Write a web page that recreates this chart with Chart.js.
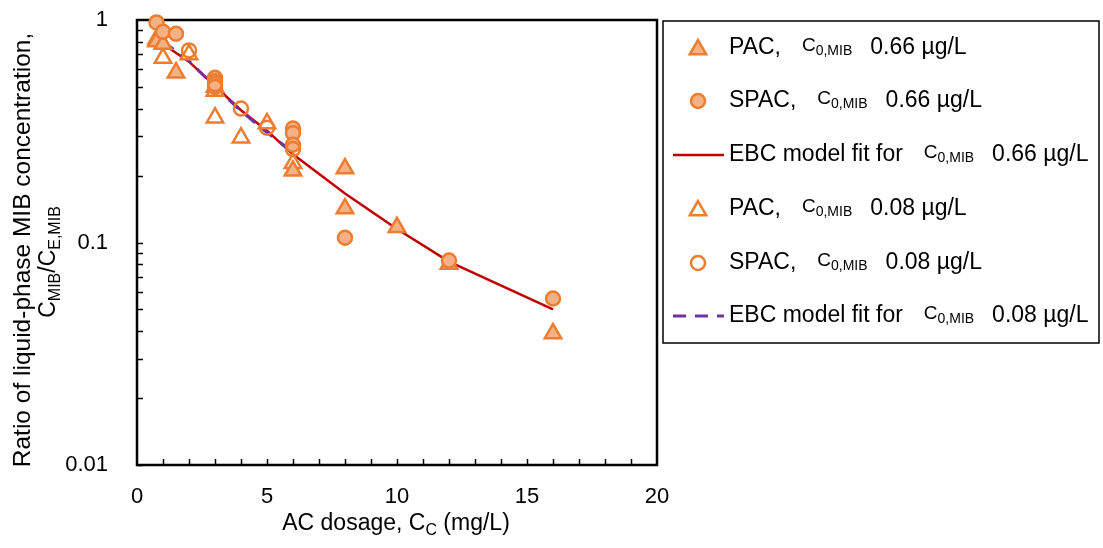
<!DOCTYPE html>
<html>
<head>
<meta charset="utf-8">
<script src="https://cdn.jsdelivr.net/npm/chart.js@4.4.0/dist/chart.umd.min.js"></script>
<style>
  html, body { margin: 0; padding: 0; background: #ffffff; }
  #wrap { width: 1103px; height: 548px; position: relative; }
</style>
</head>
<body>
<div id="wrap"><canvas id="c" width="1103" height="548"></canvas></div>
<script>
// AC dosage (mg/L) and ratio C_MIB / C_E,MIB for each series
const pacHighX  = [0.75, 1, 1.5, 3, 6, 8, 8, 10, 12, 16];
const pacHighY  = [0.80, 0.78, 0.58, 0.50, 0.21, 0.215, 0.142, 0.117, 0.080, 0.039];

const spacHighX = [0.75, 1, 1.5, 3, 3, 3, 6, 6, 6, 8, 12, 16];
const spacHighY = [0.975, 0.885, 0.867, 0.55, 0.53, 0.515, 0.325, 0.31, 0.275, 0.105, 0.083, 0.056];

const pacLowX   = [0.75, 1, 2, 3, 3, 4, 5, 6];
const pacLowY   = [0.82, 0.674, 0.70, 0.48, 0.364, 0.296, 0.343, 0.227];

const spacLowX  = [2, 3, 4, 5, 6];
const spacLowY  = [0.73, 0.50, 0.40, 0.328, 0.263];

const fitHighX  = [1, 2, 3, 4, 5, 6, 8, 10, 12, 16];
const fitHighY  = [0.78, 0.65, 0.505, 0.393, 0.318, 0.249, 0.166, 0.115, 0.082, 0.050];

const fitLowX   = [1, 2, 3, 4, 5, 6];
const fitLowY   = [0.80, 0.655, 0.50, 0.39, 0.312, 0.255];

const xTickLabels = ['0', '5', '10', '15', '20'];
const yTickValues = [0.01, 0.1, 1];
const yTickLabels = ['0.01', '0.1', '1'];

const legendPrefix = ['PAC,', 'SPAC,', 'EBC model fit for', 'PAC,', 'SPAC,', 'EBC model fit for'];
const legendValue  = ['0.66 µg/L', '0.66 µg/L', '0.66 µg/L', '0.08 µg/L', '0.08 µg/L', '0.08 µg/L'];

const ORANGE = '#ED7D31';
const ORANGE_FILL = '#F4B183';
const RED = '#C00000';
const PURPLE = '#7030A0';
const FONT = '"Liberation Sans", Arial, sans-serif';

const pts = (xs, ys) => xs.map((x, i) => ({ x: x, y: ys[i] }));

const datasets = [
  { label: 'PAC 0.66', data: pts(pacHighX, pacHighY), showLine: false,
    pointStyle: 'triangle', pointRadius: 9.5, pointBackgroundColor: ORANGE_FILL,
    pointBorderColor: ORANGE, pointBorderWidth: 2.5, order: 3, kind: 'tri', clip: false },
  { label: 'SPAC 0.66', data: pts(spacHighX, spacHighY), showLine: false,
    pointStyle: 'circle', pointRadius: 7, pointBackgroundColor: ORANGE_FILL,
    pointBorderColor: ORANGE, pointBorderWidth: 2.5, order: 2, kind: 'circ', clip: false },
  { label: 'EBC 0.66', data: pts(fitHighX, fitHighY), showLine: true, borderColor: RED,
    borderWidth: 2.5, pointRadius: 0, tension: 0, fill: false, order: 6, kind: 'line' },
  { label: 'PAC 0.08', data: pts(pacLowX, pacLowY), showLine: false,
    pointStyle: 'triangle', pointRadius: 9.5, pointBackgroundColor: '#ffffff',
    pointBorderColor: ORANGE, pointBorderWidth: 2.5, order: 4, kind: 'tri', clip: false },
  { label: 'SPAC 0.08', data: pts(spacLowX, spacLowY), showLine: false,
    pointStyle: 'circle', pointRadius: 7, pointBackgroundColor: 'rgba(255,255,255,0)',
    pointBorderColor: ORANGE, pointBorderWidth: 2.5, order: 1, kind: 'circ', clip: false },
  { label: 'EBC 0.08', data: pts(fitLowX, fitLowY), showLine: true, borderColor: PURPLE,
    borderWidth: 3, borderDash: [13, 9], pointRadius: 0, tension: 0, fill: false, order: 5, kind: 'line' }
];

// Draws text with a subscript, returns the end x
function subText(ctx, x, y, main, sub, mainSize, subSize) {
  ctx.font = mainSize + 'px ' + FONT;
  ctx.fillText(main, x, y);
  x += ctx.measureText(main).width;
  ctx.font = subSize + 'px ' + FONT;
  ctx.fillText(sub, x, y + mainSize * 0.28);
  return x + ctx.measureText(sub).width;
}

function drawMarker(ctx, kind, x, y, fill) {
  ctx.save();
  ctx.lineWidth = 2.5;
  ctx.strokeStyle = ORANGE;
  ctx.fillStyle = fill;
  ctx.beginPath();
  if (kind === 'tri') {
    const r = 9.5;
    for (let k = 0; k < 3; k++) {
      const a = k * 2 * Math.PI / 3;
      const px = x + Math.sin(a) * r, py = y - Math.cos(a) * r;
      if (k === 0) ctx.moveTo(px, py); else ctx.lineTo(px, py);
    }
    ctx.closePath();
  } else {
    ctx.arc(x, y, 7, 0, Math.PI * 2);
  }
  ctx.fill();
  ctx.stroke();
  ctx.restore();
}

const framePlugin = {
  id: 'frame',
  beforeDatasetsDraw(chart) {
    const ctx = chart.ctx;
    const a = chart.chartArea;
    const xs = chart.scales.x, ys = chart.scales.y;
    ctx.save();
    ctx.strokeStyle = '#000';
    ctx.lineWidth = 1.5;
    // inward minor ticks on the x axis
    ctx.beginPath();
    for (let v = 1; v < 20; v++) {
      const px = Math.round(xs.getPixelForValue(v)) + 0.5;
      ctx.moveTo(px, a.bottom);
      ctx.lineTo(px, a.bottom - 6);
    }
    // inward ticks on the log y axis
    for (let d = -2; d < 0; d++) {
      for (let m = 1; m < 10; m++) {
        const py = Math.round(ys.getPixelForValue(m * Math.pow(10, d))) + 0.5;
        ctx.moveTo(a.left, py);
        ctx.lineTo(a.left + 6, py);
      }
    }
    ctx.stroke();
    // plot frame
    ctx.lineWidth = 2.5;
    ctx.strokeRect(a.left, a.top, a.right - a.left, a.bottom - a.top);
    ctx.restore();
  },
  afterDraw(chart) {
    const ctx = chart.ctx;
    ctx.save();
    ctx.fillStyle = '#000';
    ctx.textBaseline = 'middle';

    // x-axis title
    ctx.font = '23px ' + FONT;
    const t1 = 'AC dosage, C', t3 = ' (mg/L)';
    const w1 = ctx.measureText(t1).width, w3 = ctx.measureText(t3).width;
    ctx.font = '16px ' + FONT;
    const w2 = ctx.measureText('C').width;
    let sx = 396 - (w1 + w2 + w3) / 2;
    sx = subText(ctx, sx, 524, t1, 'C', 23, 16);
    ctx.font = '23px ' + FONT;
    ctx.fillText(t3, sx, 524);

    // y-axis title, two rotated lines
    ctx.save();
    ctx.translate(23, 250);
    ctx.rotate(-Math.PI / 2);
    ctx.textAlign = 'center';
    ctx.font = '24.5px ' + FONT;
    ctx.fillText('Ratio of liquid-phase MIB concentration,', 0, 0);
    ctx.restore();

    ctx.save();
    ctx.translate(49, 262);
    ctx.rotate(-Math.PI / 2);
    ctx.textAlign = 'left';
    const parts = [['C', 'MIB'], ['/C', 'E,MIB']];
    let total = 0;
    parts.forEach(p => {
      ctx.font = '23px ' + FONT; total += ctx.measureText(p[0]).width;
      ctx.font = '16px ' + FONT; total += ctx.measureText(p[1]).width;
    });
    let yx = -total / 2;
    parts.forEach(p => { yx = subText(ctx, yx, 0, p[0], p[1], 23, 16); });
    ctx.restore();

    // legend box
    const L = 663, T = 21, R = 1099, B = 343;
    ctx.strokeStyle = '#000';
    ctx.lineWidth = 1.5;
    ctx.strokeRect(L, T, R - L, B - T);
    const rowY = [48, 101, 155, 209, 263, 316];
    chart.data.datasets.forEach((ds, i) => {
      const y = rowY[i];
      if (ds.kind === 'line') {
        ctx.save();
        ctx.strokeStyle = ds.borderColor;
        ctx.lineWidth = ds.borderWidth;
        ctx.setLineDash(ds.borderDash || []);
        ctx.beginPath();
        ctx.moveTo(673, y);
        ctx.lineTo(724, y);
        ctx.stroke();
        ctx.restore();
      } else {
        drawMarker(ctx, ds.kind, 698, y + (ds.kind === 'tri' ? 1.5 : 0), ds.pointBackgroundColor);
      }
      ctx.fillStyle = '#000';
      ctx.font = '23px ' + FONT;
      let x = 729;
      ctx.fillText(legendPrefix[i], x, y);
      x += ctx.measureText(legendPrefix[i]).width + 21;
      x = subText(ctx, x, y - 2, 'C', '0,MIB', 19, 14);
      x += 18;
      ctx.font = '23px ' + FONT;
      ctx.fillText(legendValue[i], x, y);
    });
    ctx.restore();
  }
};

new Chart(document.getElementById('c'), {
  type: 'scatter',
  data: { datasets: datasets },
  options: {
    responsive: false,
    devicePixelRatio: 1,
    animation: false,
    layout: { padding: { left: 0, right: 446, top: 20, bottom: 0 } },
    plugins: { legend: { display: false }, tooltip: { enabled: false } },
    scales: {
      x: {
        type: 'linear', min: 0, max: 20,
        grid: { display: false },
        border: { display: false },
        afterBuildTicks: s => { s.ticks = xTickLabels.map(t => ({ value: Number(t) })); },
        ticks: {
          color: '#000', font: { family: FONT, size: 22 }, padding: 11,
          maxRotation: 0, autoSkip: false,
          callback: (v, i) => xTickLabels[i]
        },
        afterFit: s => { s.height = 83; s.paddingLeft = 0; s.paddingRight = 0; }
      },
      y: {
        type: 'logarithmic', min: 0.01, max: 1,
        grid: { display: false },
        border: { display: false },
        afterBuildTicks: s => { s.ticks = yTickValues.map(v => ({ value: v })); },
        ticks: {
          color: '#000', font: { family: FONT, size: 22 }, padding: 21,
          autoSkip: false,
          callback: (v, i) => yTickLabels[i]
        },
        afterFit: s => { s.width = 137; s.paddingTop = 0; s.paddingBottom = 0; }
      }
    }
  },
  plugins: [framePlugin]
});
</script>
</body>
</html>
